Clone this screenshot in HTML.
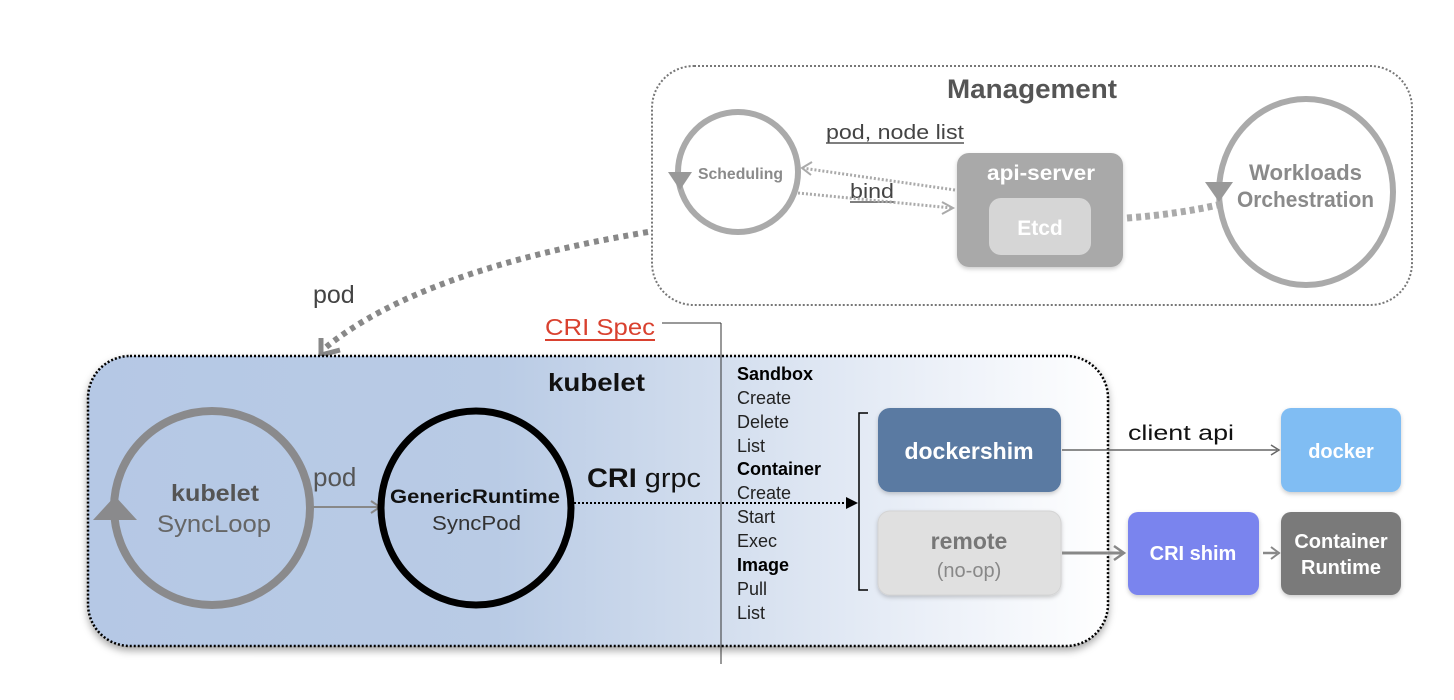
<!DOCTYPE html>
<html><head><meta charset="utf-8"><style>
html,body{margin:0;padding:0;background:#fff;}
svg{display:block;font-family:"Liberation Sans",Arial,sans-serif;}
</style></head><body>
<svg width="1454" height="700" viewBox="0 0 1454 700" xmlns="http://www.w3.org/2000/svg">
<defs>
<linearGradient id="kg" x1="0" x2="1" y1="0" y2="0">
<stop offset="0" stop-color="#b5c8e5"/>
<stop offset="0.4" stop-color="#b9cbe5"/>
<stop offset="0.62" stop-color="#d3deee"/>
<stop offset="0.85" stop-color="#eef2f9"/>
<stop offset="1" stop-color="#ffffff"/>
</linearGradient>
<filter id="sh" x="-5%" y="-5%" width="110%" height="115%"><feDropShadow dx="0" dy="4" stdDeviation="4" flood-color="#000" flood-opacity="0.35"/></filter>
<filter id="sh2" x="-10%" y="-10%" width="120%" height="130%"><feDropShadow dx="0" dy="2" stdDeviation="2" flood-color="#000" flood-opacity="0.2"/></filter>
</defs>

<!-- Management -->
<rect x="652" y="66" width="760" height="239" rx="42" fill="#fff" stroke="#777" stroke-width="2" stroke-dasharray="2 2"/>
<text x="947" y="98" font-size="27" font-weight="bold" fill="#555" textLength="170" lengthAdjust="spacingAndGlyphs">Management</text>
<circle cx="738" cy="172" r="60" fill="none" stroke="#aaa" stroke-width="6"/>
<polygon points="668,172 692,172 680,190" fill="#999"/>
<text x="698" y="179" font-size="16" font-weight="bold" fill="#8a8a8a" textLength="85" lengthAdjust="spacingAndGlyphs">Scheduling</text>
<text x="826" y="139" font-size="20" fill="#444" textLength="138" lengthAdjust="spacingAndGlyphs">pod, node list</text>
<line x1="826" y1="143" x2="964" y2="143" stroke="#555" stroke-width="1.5"/>
<text x="850" y="198" font-size="20" fill="#444" textLength="44" lengthAdjust="spacingAndGlyphs">bind</text>
<line x1="850" y1="202" x2="894" y2="202" stroke="#555" stroke-width="1.5"/>
<line x1="955" y1="190" x2="802" y2="168" stroke="#aaa" stroke-width="3" stroke-dasharray="2 2"/>
<polyline points="812,162 802,168 811,175" fill="none" stroke="#aaa" stroke-width="2"/>
<line x1="798" y1="193" x2="952" y2="208" stroke="#aaa" stroke-width="3" stroke-dasharray="2 2"/>
<polyline points="942,202 953,208 942,214" fill="none" stroke="#aaa" stroke-width="2"/>
<rect x="957" y="153" width="166" height="114" rx="12" fill="#a9a9a9" filter="url(#sh2)"/>
<text x="987" y="180" font-size="21" font-weight="bold" fill="#fff" textLength="108" lengthAdjust="spacingAndGlyphs">api-server</text>
<rect x="989" y="198" width="102" height="57" rx="12" fill="#d6d6d6"/>
<text x="1040" y="235" text-anchor="middle" font-size="21" font-weight="bold" fill="#fff">Etcd</text>
<path d="M1127,218 Q1180,214 1222,204" fill="none" stroke="#aaa" stroke-width="7" stroke-dasharray="5 4"/>
<ellipse cx="1306" cy="192" rx="87" ry="93" fill="none" stroke="#aaa" stroke-width="6"/>
<polygon points="1205,182 1233,182 1219,202" fill="#999"/>
<text x="1249" y="180" font-size="22" font-weight="bold" fill="#8a8a8a" textLength="113" lengthAdjust="spacingAndGlyphs">Workloads</text>
<text x="1237" y="207" font-size="22" font-weight="bold" fill="#8a8a8a" textLength="137" lengthAdjust="spacingAndGlyphs">Orchestration</text>

<!-- pod arrow -->
<path d="M648,232 Q420,270 325,348" fill="none" stroke="#888" stroke-width="6" stroke-dasharray="5 5"/>
<polyline points="321,338 321,355 340,350" fill="none" stroke="#888" stroke-width="5"/>
<text x="313" y="303" font-size="25" fill="#444">pod</text>

<!-- CRI Spec -->
<text x="545" y="335" font-size="23" fill="#d9412f" textLength="110" lengthAdjust="spacingAndGlyphs">CRI Spec</text>
<line x1="545" y1="340" x2="655" y2="340" stroke="#d9412f" stroke-width="2"/>

<!-- kubelet -->
<rect x="88" y="356" width="1020" height="290" rx="42" fill="url(#kg)" stroke="#000" stroke-width="2.5" stroke-dasharray="2 2" filter="url(#sh)"/>
<line x1="662" y1="323" x2="721" y2="323" stroke="#333" stroke-width="1"/>
<line x1="721" y1="323" x2="721" y2="664" stroke="#333" stroke-width="1"/>
<text x="548" y="391" font-size="25" font-weight="bold" fill="#111" textLength="97" lengthAdjust="spacingAndGlyphs">kubelet</text>

<ellipse cx="212" cy="508" rx="98" ry="97" fill="none" stroke="#8a8a8c" stroke-width="8"/>
<polygon points="115,496 93,520 137,520" fill="#8a8a8c"/>
<text x="171" y="501" font-size="23" font-weight="bold" fill="#555" textLength="88" lengthAdjust="spacingAndGlyphs">kubelet</text>
<text x="157" y="532" font-size="24" fill="#666" textLength="114" lengthAdjust="spacingAndGlyphs">SyncLoop</text>
<line x1="311" y1="507" x2="378" y2="507" stroke="#888" stroke-width="2"/>
<polyline points="371,501 380,507 371,513" fill="none" stroke="#888" stroke-width="2"/>
<text x="313" y="486" font-size="26" fill="#555">pod</text>

<ellipse cx="476" cy="508" rx="95" ry="97" fill="none" stroke="#000" stroke-width="7"/>
<text x="390" y="503" font-size="19" font-weight="bold" fill="#111" textLength="170" lengthAdjust="spacingAndGlyphs">GenericRuntime</text>
<text x="432" y="530" font-size="20" fill="#333" textLength="89" lengthAdjust="spacingAndGlyphs">SyncPod</text>
<text x="587" y="487" font-size="27" fill="#111" textLength="114" lengthAdjust="spacingAndGlyphs"><tspan font-weight="bold">CRI</tspan> grpc</text>
<line x1="574" y1="503" x2="848" y2="503" stroke="#000" stroke-width="2" stroke-dasharray="2 2"/>
<polygon points="846,497 858,503 846,509" fill="#000"/>

<g font-size="18" fill="#222">
<text x="737" y="380" font-weight="bold" fill="#000">Sandbox</text>
<text x="737" y="404">Create</text>
<text x="737" y="428">Delete</text>
<text x="737" y="452">List</text>
<text x="737" y="475" font-weight="bold" fill="#000">Container</text>
<text x="737" y="499">Create</text>
<text x="737" y="523">Start</text>
<text x="737" y="547">Exec</text>
<text x="737" y="571" font-weight="bold" fill="#000">Image</text>
<text x="737" y="595">Pull</text>
<text x="737" y="619">List</text>
</g>
<polyline points="868,413 859,413 859,590 868,590" fill="none" stroke="#000" stroke-width="1.5"/>

<rect x="878" y="408" width="183" height="84" rx="12" fill="#5a7aa2" filter="url(#sh2)"/>
<text x="969" y="459" text-anchor="middle" font-size="23" font-weight="bold" fill="#fff">dockershim</text>
<rect x="878" y="511" width="183" height="84" rx="12" fill="#e0e0e0" stroke="#d4d4d4" filter="url(#sh2)"/>
<text x="969" y="549" text-anchor="middle" font-size="23" font-weight="bold" fill="#777">remote</text>
<text x="969" y="577" text-anchor="middle" font-size="20" fill="#888">(no-op)</text>

<line x1="1062" y1="450" x2="1277" y2="450" stroke="#666" stroke-width="1.5"/>
<polyline points="1271,445 1279,450 1271,455" fill="none" stroke="#666" stroke-width="1.5"/>
<text x="1128" y="440" font-size="21" fill="#111" textLength="106" lengthAdjust="spacingAndGlyphs">client api</text>
<line x1="1062" y1="553" x2="1123" y2="553" stroke="#888" stroke-width="3"/>
<polyline points="1114,546 1124,553 1114,560" fill="none" stroke="#888" stroke-width="2.5"/>

<rect x="1281" y="408" width="120" height="84" rx="10" fill="#80bdf3" filter="url(#sh2)"/>
<text x="1341" y="458" text-anchor="middle" font-size="20" font-weight="bold" fill="#fff">docker</text>
<rect x="1128" y="512" width="131" height="83" rx="10" fill="#7a84ee" filter="url(#sh2)"/>
<text x="1193" y="560" text-anchor="middle" font-size="20" font-weight="bold" fill="#fff">CRI shim</text>
<line x1="1263" y1="553" x2="1277" y2="553" stroke="#888" stroke-width="2.5"/>
<polyline points="1271,547 1279,553 1271,559" fill="none" stroke="#888" stroke-width="2"/>
<rect x="1281" y="512" width="120" height="83" rx="10" fill="#7a7a7a" filter="url(#sh2)"/>
<text x="1341" y="548" text-anchor="middle" font-size="20" font-weight="bold" fill="#fff">Container</text>
<text x="1341" y="574" text-anchor="middle" font-size="20" font-weight="bold" fill="#fff">Runtime</text>
</svg>
</body></html>
